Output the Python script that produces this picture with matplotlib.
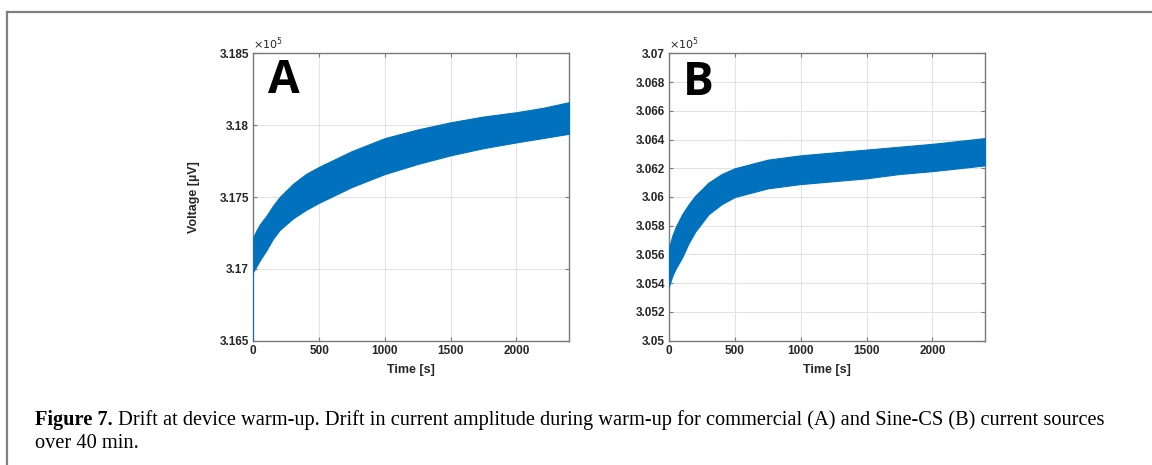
import matplotlib
matplotlib.use("Agg")
import matplotlib.pyplot as plt
from matplotlib.lines import Line2D
from matplotlib.ticker import FuncFormatter

# ---------------- data (voltage in units of 1e5 uV) ----------------
time_s = [0, 25, 50, 100, 150, 200, 300, 400, 500, 750, 1000, 1250, 1500, 1750, 2000, 2200, 2400]

a_upper = [3.1722, 3.1727, 3.1731, 3.1737, 3.1744, 3.1750, 3.1759, 3.1766, 3.1771, 3.1782,
           3.1791, 3.1797, 3.1802, 3.1806, 3.1809, 3.1812, 3.1816]
a_lower = [3.1698, 3.1702, 3.1706, 3.1713, 3.1721, 3.1727, 3.1735, 3.1741, 3.1746, 3.1757,
           3.1766, 3.1773, 3.1779, 3.1784, 3.1788, 3.1791, 3.1794]
a_start = 3.165

b_upper = [3.0565, 3.0573, 3.0579, 3.0588, 3.0595, 3.0601, 3.0610, 3.0616, 3.0620, 3.0626,
           3.0629, 3.0631, 3.0633, 3.0635, 3.0637, 3.0639, 3.0641]
b_lower = [3.0538, 3.0545, 3.0550, 3.0558, 3.0568, 3.0576, 3.0588, 3.0595, 3.0600, 3.0606,
           3.0609, 3.0611, 3.0613, 3.0616, 3.0618, 3.0620, 3.0622]
b_start = 3.0537

a_yticks = [3.165, 3.17, 3.175, 3.18, 3.185]
b_yticks = [3.05, 3.052, 3.054, 3.056, 3.058, 3.06, 3.062, 3.064, 3.066, 3.068, 3.07]
x_ticks = [0, 500, 1000, 1500, 2000]
x_max = 2400

panel_labels = ["A", "B"]
y_label = "Voltage [\u00b5V]"
x_label = "Time [s]"
caption_bold = "Figure 7."
caption_line1 = (" Drift at device warm-up. Drift in current amplitude during warm-up for "
                 "commercial (A) and Sine-CS (B) current sources")
caption_line2 = "over 40 min."

# ---------------- style ----------------
W, H = 1152, 465
BLUE = "#0072BD"
SPINE = "#7a7a7a"
GRID = "#e3e3e3"
TXT = "#262626"

fig = plt.figure(figsize=(W / 100, H / 100), dpi=100)
fig.patch.set_facecolor("white")

def px_axes(l, r, t, b):
    return fig.add_axes([l / W, 1 - b / H, (r - l) / W, (b - t) / H])

axA = px_axes(253.3, 569, 53.3, 340.7)
axB = px_axes(669, 985, 53.3, 340.7)

fmt = FuncFormatter(lambda v, p: ("%g" % round(v, 6)))

def style(ax, yticks, upper, lower, start, label, label_xy):
    ax.fill_between(time_s, lower, upper, color=BLUE, linewidth=0.8, edgecolor=BLUE, zorder=3)
    ax.vlines(time_s[0], start, lower[0], color=BLUE, linewidth=1.2, zorder=3)
    ax.set_xlim(0, x_max)
    ax.set_ylim(yticks[0], yticks[-1])
    ax.set_xticks(x_ticks)
    ax.set_yticks(yticks)
    ax.yaxis.set_major_formatter(fmt)
    ax.grid(True, color=GRID, linewidth=0.8, zorder=0)
    ax.set_axisbelow(True)
    for s in ax.spines.values():
        s.set_color(SPINE)
        s.set_linewidth(1.0)
    ax.tick_params(direction="in", length=3, width=0.8, color=SPINE,
                   top=True, right=True, labelsize=8.5, labelcolor=TXT, pad=3)
    for lab in ax.get_xticklabels() + ax.get_yticklabels():
        lab.set_fontweight("bold")
        lab.set_family("Liberation Sans")
    ax.set_xlabel(x_label, fontsize=9, fontweight="bold", color=TXT,
                  family="Liberation Sans", labelpad=5)
    ax.text(0.0, 1.005, r"$\times10^{5}$", transform=ax.transAxes, fontsize=8,
            color=TXT, ha="left", va="bottom")
    ax.text(label_xy[0], label_xy[1], label, transform=ax.transAxes, fontsize=33,
            fontweight="bold", family="Open Sans", color="black", ha="left", va="center")

style(axA, a_yticks, a_upper, a_lower, a_start, panel_labels[0], (0.048, 0.905))
style(axB, b_yticks, b_upper, b_lower, b_start, panel_labels[1], (0.045, 0.898))
axA.set_ylabel(y_label, fontsize=9, fontweight="bold", color=TXT,
               family="Liberation Sans", labelpad=14)

# page-style frame (top and left rules)
fig.add_artist(Line2D([7 / W, 1.0], [1 - 12 / H, 1 - 12 / H], color="#808080", linewidth=1.6))
fig.add_artist(Line2D([7 / W, 7 / W], [1 - 12 / H, 0.0], color="#808080", linewidth=1.6))

# caption
cap_size = 14.7
y1 = 1 - 425 / H
y2 = 1 - 448 / H
t_b = fig.text(35 / W, y1, caption_bold, fontsize=cap_size, fontweight="bold",
               family="Liberation Serif", color="black", va="baseline")
renderer = fig.canvas.get_renderer()
bb = t_b.get_window_extent(renderer=renderer)
fig.text(bb.x1 / W, y1, caption_line1, fontsize=cap_size, family="Liberation Serif",
         color="black", va="baseline")
fig.text(35 / W, y2, caption_line2, fontsize=cap_size, family="Liberation Serif",
         color="black", va="baseline")

fig.savefig("out.png", dpi=100, facecolor="white")
